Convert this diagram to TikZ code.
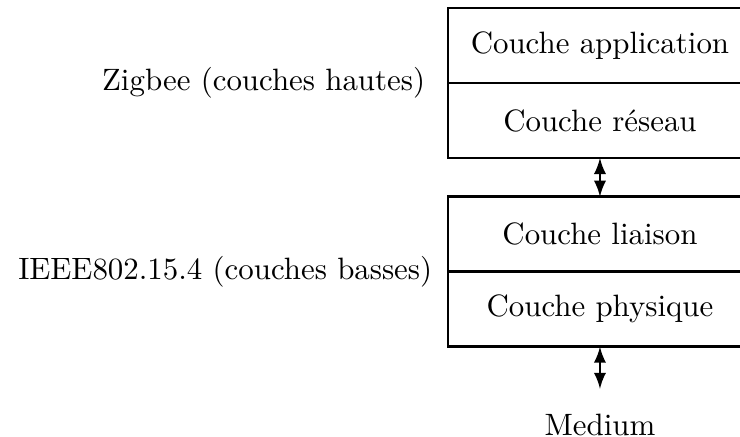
\documentclass[tikz,border=0pt]{standalone}
\usetikzlibrary{positioning}

\begin{document}
\begin{tikzpicture}[
  node distance=0.44cm,
  layer/.style={rectangle, draw=black, thick, outer sep=0pt, minimum width=3.46cm, minimum height=0.853cm, text centered},
  side/.style={text=black},
  arrow/.style={thick, <->, >=latex}
]
\useasboundingbox (0,0) rectangle (8.418,-4.971);

% Upper stack (Zigbee)
\node (app) [layer] at (6.825,-0.518) {Couche application};
\node (reseau) [layer, below=0pt of app] {Couche réseau};

% Lower stack (IEEE 802.15.4)
\node (liaison) [layer, below=of reseau] {Couche liaison};
\node (physique) [layer, below=0pt of liaison] {Couche physique};
\node (medium) [below=0.64cm of physique] {Medium};

% Side labels
\node (zigbee) [side, left=0.135cm of app.south west] {Zigbee (couches hautes)};
\node (ieee) [side, left=0.055cm of liaison.south west] {IEEE802.15.4 (couches basses)};

% Arrows
\draw [arrow] (reseau) -- (liaison);
\draw [arrow, shorten >=0.16cm] (physique) -- (medium);

\end{tikzpicture}
\end{document}
